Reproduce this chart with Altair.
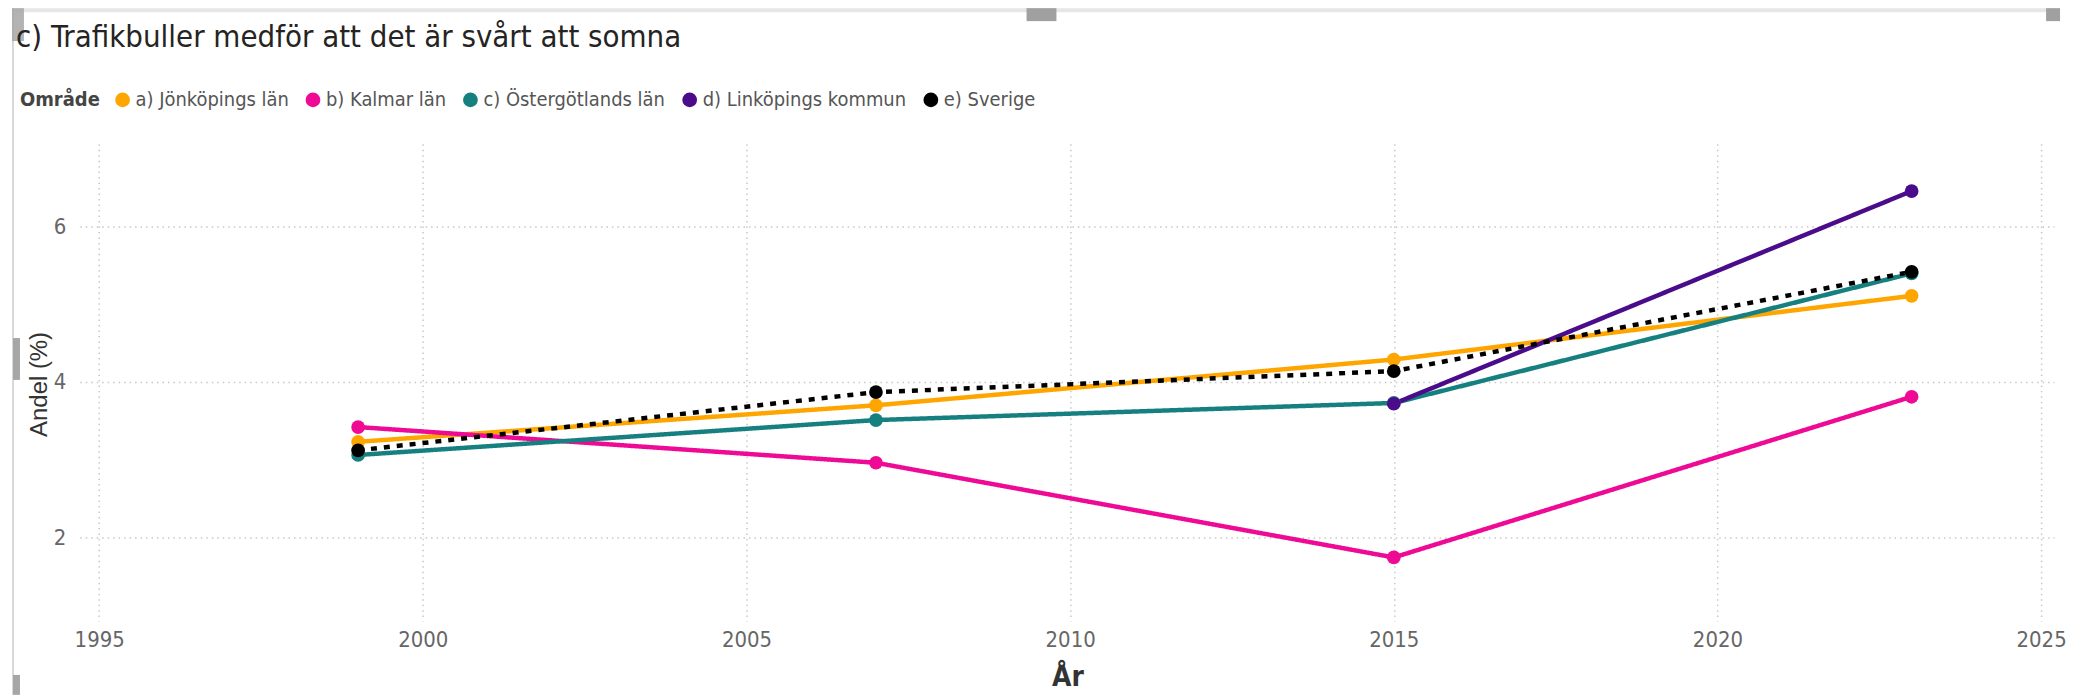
import altair as alt
import pandas as pd

title_text = "c) Trafikbuller medför att det är svårt att somna"
areas = ["a) Jönköpings län", "b) Kalmar län", "c) Östergötlands län", "d) Linköpings kommun", "e) Sverige"]
colors = ["#FFA500", "#EE0A94", "#168080", "#4B0C8B", "#000000"]

years_full = [1999, 2007, 2015, 2023]
jonkoping = [3.23, 3.70, 4.29, 5.11]
kalmar = [3.42, 2.96, 1.74, 3.81]
ostergotland = [3.06, 3.51, 3.73, 5.40]
years_lkpg = [2015, 2023]
linkoping = [3.72, 6.46]
sverige = [3.12, 3.87, 4.14, 5.42]

rows = []
for name, yrs, vals in [
    (areas[0], years_full, jonkoping),
    (areas[1], years_full, kalmar),
    (areas[2], years_full, ostergotland),
    (areas[3], years_lkpg, linkoping),
    (areas[4], years_full, sverige),
]:
    for y, v in zip(yrs, vals):
        rows.append({"År": y, "Andel": v, "Område": name})
df = pd.DataFrame(rows)

FONT = "DejaVu Sans Condensed, Liberation Sans Narrow, Roboto Condensed, Lato"

x = alt.X("År:Q", scale=alt.Scale(domain=[1994.7, 2025.2], nice=False, zero=False),
          axis=alt.Axis(values=[1995, 2000, 2005, 2010, 2015, 2020, 2025], format="d",
                        title="År", labelFontSize=22, labelColor="#666666", labelFont=FONT,
                        labelPadding=8, ticks=False, domain=False,
                        titleFont=FONT, titleFontSize=28, titleFontWeight="bold", titleColor="#333333",
                        titleX=991, titleY=57, titleAlign="center", titleBaseline="middle",
                        grid=True, gridDash=[1.5, 4], gridColor="#c8c8c8", gridWidth=1.5))
y = alt.Y("Andel:Q", scale=alt.Scale(domain=[0.92, 7.07], nice=False, zero=False),
          axis=alt.Axis(values=[2, 4, 6], title="Andel (%)", labelFontSize=22, labelColor="#666666",
                        labelFont=FONT, labelPadding=14, ticks=False, domain=False,
                        titleFont="Liberation Sans", titleFontSize=24, titleFontWeight="normal",
                        titleColor="#333333", titleX=-40, titleY=241, titleAlign="center",
                        titleBaseline="middle", titleAngle=270,
                        grid=True, gridDash=[1.5, 4], gridColor="#c8c8c8", gridWidth=1.5))
color = alt.Color("Område:N", scale=alt.Scale(domain=areas, range=colors),
                  legend=alt.Legend(orient="none", legendX=-60, legendY=-54, direction="horizontal",
                                    titleOrient="left", title="Område", titleFont=FONT,
                                    titleFontSize=20, titleFontWeight="bold", titleColor="#444444",
                                    labelFont=FONT, labelFontSize=20, labelColor="#555555",
                                    labelLimit=500,
                                    symbolType="circle", symbolSize=220, symbolStrokeWidth=0,
                                    labelOffset=3, columnPadding=14, titlePadding=12))
dash = alt.StrokeDash("Område:N", scale=alt.Scale(domain=areas, range=[[1, 0], [1, 0], [1, 0], [1, 0], [6, 7]]), legend=None)

base = alt.Chart(df)
lines = base.mark_line(strokeWidth=4.5).encode(x=x, y=y, color=color, strokeDash=dash)
points = base.mark_circle(size=190, opacity=1).encode(x=x, y=y, color=color)

# Power BI visual frame (light border lines and grey resize handles) and title
frame_src = alt.Chart(pd.DataFrame({"f": [0]}))
top_line = frame_src.mark_rect(color="#e6e6e6").encode(
    x=alt.value(-68), x2=alt.value(1987), y=alt.value(-136), y2=alt.value(-132))
left_line = frame_src.mark_rect(color="#d9d9d9").encode(
    x=alt.value(-68), x2=alt.value(-66), y=alt.value(-136), y2=alt.value(553))
h1 = frame_src.mark_rect(color="#a6a6a6", opacity=0.85).encode(
    x=alt.value(-68), x2=alt.value(-56), y=alt.value(-136), y2=alt.value(-103))
h2 = frame_src.mark_rect(color="#a6a6a6").encode(
    x=alt.value(-67), x2=alt.value(-60), y=alt.value(195), y2=alt.value(237))
h3 = frame_src.mark_rect(color="#a6a6a6").encode(
    x=alt.value(-67), x2=alt.value(-60), y=alt.value(533), y2=alt.value(553))
h4 = frame_src.mark_rect(color="#a0a0a0").encode(
    x=alt.value(950), x2=alt.value(980), y=alt.value(-136), y2=alt.value(-123))
h5 = frame_src.mark_rect(color="#a0a0a0").encode(
    x=alt.value(1973), x2=alt.value(1987), y=alt.value(-136), y2=alt.value(-123))
title = frame_src.mark_text(font=FONT, fontSize=31, color="#252423", align="left", baseline="middle").encode(
    x=alt.value(-64), y=alt.value(-106), text=alt.value(title_text))

chart = alt.layer(top_line, left_line, h1, h2, h3, h4, h5, title, lines, points).properties(
    width=1981, height=479,
    autosize=alt.AutoSizeParams(type="none"),
    padding={"left": 72, "top": 135, "right": 16, "bottom": 80},
).configure(background="white").configure_view(stroke=None)

chart.save("out.html", embed_options={"renderer": "svg", "actions": False})
